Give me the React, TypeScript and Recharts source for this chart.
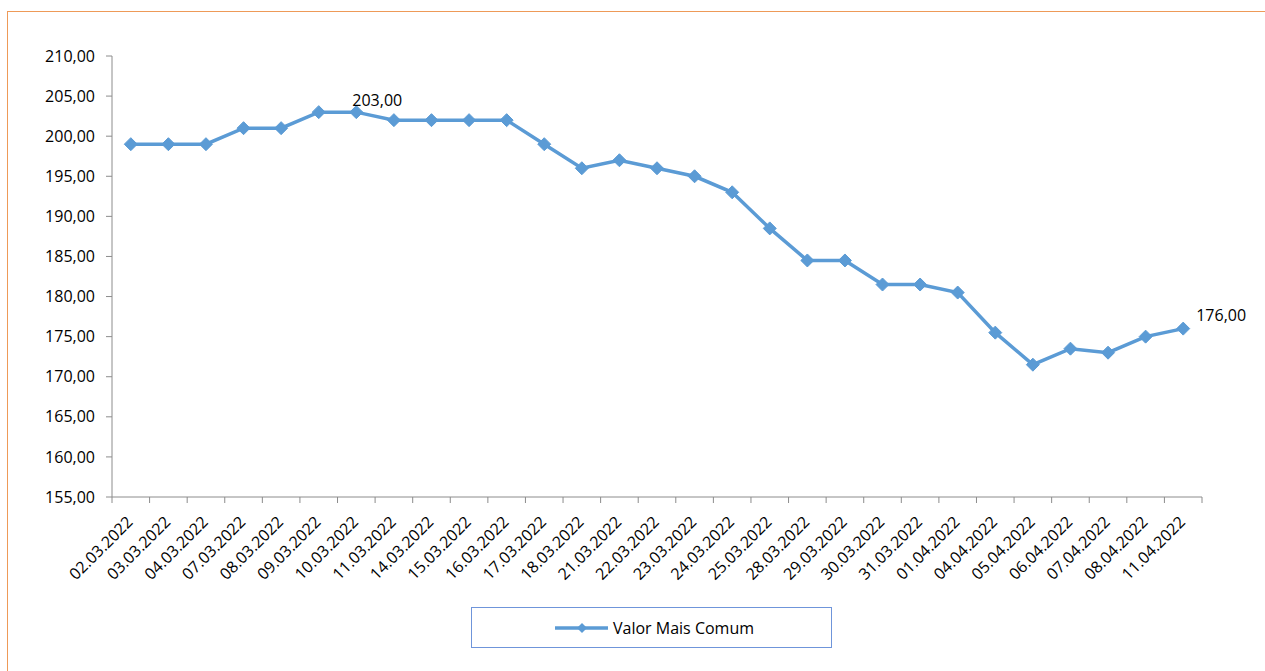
import React from 'react';
import { LineChart, Line, XAxis, YAxis, Legend, LabelList } from 'recharts';

// Trading dates shown on the category axis
const dates: string[] = [
  '02.03.2022', '03.03.2022', '04.03.2022', '07.03.2022', '08.03.2022', '09.03.2022',
  '10.03.2022', '11.03.2022', '14.03.2022', '15.03.2022', '16.03.2022', '17.03.2022',
  '18.03.2022', '21.03.2022', '22.03.2022', '23.03.2022', '24.03.2022', '25.03.2022',
  '28.03.2022', '29.03.2022', '30.03.2022', '31.03.2022', '01.04.2022', '04.04.2022',
  '05.04.2022', '06.04.2022', '07.04.2022', '08.04.2022', '11.04.2022',
];

// Most common value per day
const valorMaisComum: number[] = [
  199, 199, 199, 201, 201, 203, 203, 202, 202, 202, 202, 199, 196, 197, 196, 195, 193,
  188.5, 184.5, 184.5, 181.5, 181.5, 180.5, 175.5, 171.5, 173.5, 173, 175, 176,
];

// Y axis ticks
const yTicks: number[] = [155, 160, 165, 170, 175, 180, 185, 190, 195, 200, 205, 210];

// Points that carry a value label
const labelledIdx: number[] = [6, 28];

const SERIES_NAME = 'Valor Mais Comum';
const BLUE = '#5B9BD5';
const AXIS = '#8C8C8C';
const FONT = '"Open Sans", sans-serif';

const fmt = (v: number) => v.toFixed(2).replace('.', ',');

// Each category sits in the middle of its slot; slot edges get the tick marks.
const data = valorMaisComum.map((v, i) => ({ pos: i + 0.5, date: dates[i], valor: v }));
const xTicks: number[] = [];
for (let i = 0; i <= dates.length; i++) {
  xTicks.push(i);
  if (i < dates.length) xTicks.push(i + 0.5);
}

const Diamond = (props: any) => {
  const { cx, cy } = props;
  if (cx == null || cy == null) return null;
  const w = 6.5;
  const h = 6.5;
  return (
    <path
      d={`M${cx},${cy - h}L${cx + w},${cy}L${cx},${cy + h}L${cx - w},${cy}Z`}
      fill={BLUE}
      stroke={BLUE}
      strokeWidth={1}
    />
  );
};

const XTick = (props: any) => {
  const { x, y, payload } = props;
  const v: number = payload.value;
  if (Number.isInteger(v)) {
    return <line x1={x} x2={x} y1={y - 6} y2={y} stroke={AXIS} strokeWidth={1} />;
  }
  const label = dates[Math.floor(v)];
  return (
    <g transform={`translate(${x + 3},${y + 20}) rotate(-45)`}>
      <text x={0} y={0} textAnchor="end" fill="#000" fontSize={16} fontFamily={FONT}>
        {label}
      </text>
    </g>
  );
};

const ValueLabel = (props: any) => {
  const { x, y, value, index } = props;
  if (!labelledIdx.includes(index)) return null;
  const last = index === valorMaisComum.length - 1;
  return (
    <text
      x={last ? x + 13 : x - 4}
      y={last ? y - 8 : y - 6}
      textAnchor="start"
      fill="#000"
      fontSize={16}
      fontFamily={FONT}
    >
      {fmt(value)}
    </text>
  );
};

const LegendBox = () => (
  <div
    style={{
      boxSizing: 'border-box',
      width: 361,
      height: 41,
      border: '1px solid #6F95DA',
      display: 'flex',
      alignItems: 'center',
      paddingLeft: 83,
      fontFamily: FONT,
      fontSize: 16,
      color: '#000',
      background: '#fff',
    }}
  >
    <svg width={53} height={14} style={{ display: 'block' }}>
      <line x1={0} x2={53} y1={7} y2={7} stroke={BLUE} strokeWidth={3.5} strokeLinecap="round" />
      <path d="M27,2L32,7L27,12L22,7Z" fill={BLUE} />
    </svg>
    <span style={{ marginLeft: 5, lineHeight: '20px' }}>{SERIES_NAME}</span>
  </div>
);

export default function App() {
  return (
    <div
      style={{
        position: 'absolute',
        left: 0,
        top: 0,
        width: 1265,
        height: 671,
        background: '#fff',
        overflow: 'hidden',
      }}
    >
      <div
        style={{
          position: 'absolute',
          left: 7,
          top: 11,
          width: 1300,
          height: 700,
          borderTop: '1px solid #EE9A58',
          borderLeft: '1px solid #EE9A58',
        }}
      />
      <div style={{ position: 'absolute', left: 0, top: 0 }}>
        <LineChart
          width={1265}
          height={671}
          data={data}
          margin={{ top: 56, right: 63, left: 0, bottom: 23 }}
        >
          <XAxis
            dataKey="pos"
            type="number"
            domain={[0, dates.length]}
            ticks={xTicks}
            interval={0}
            height={110}
            tickLine={false}
            tickSize={6}
            tickMargin={0}
            tick={<XTick />}
            axisLine={{ stroke: AXIS, strokeWidth: 1 }}
            allowDecimals
          />
          <YAxis
            type="number"
            domain={[155, 210]}
            ticks={yTicks}
            interval={0}
            width={112}
            tickSize={6}
            tickMargin={11}
            tickFormatter={fmt}
            tick={{ fill: '#000', fontSize: 16, fontFamily: FONT }}
            tickLine={{ stroke: AXIS }}
            axisLine={{ stroke: AXIS, strokeWidth: 1 }}
          />
          <Legend
            verticalAlign="bottom"
            align="left"
            wrapperStyle={{ left: 471, width: 361, height: 41 }}
            content={<LegendBox />}
          />
          <Line
            type="linear"
            dataKey="valor"
            name={SERIES_NAME}
            stroke={BLUE}
            strokeWidth={3.5}
            dot={<Diamond />}
            activeDot={false}
            isAnimationActive={false}
          >
            <LabelList dataKey="valor" content={<ValueLabel />} />
          </Line>
        </LineChart>
      </div>
    </div>
  );
}
